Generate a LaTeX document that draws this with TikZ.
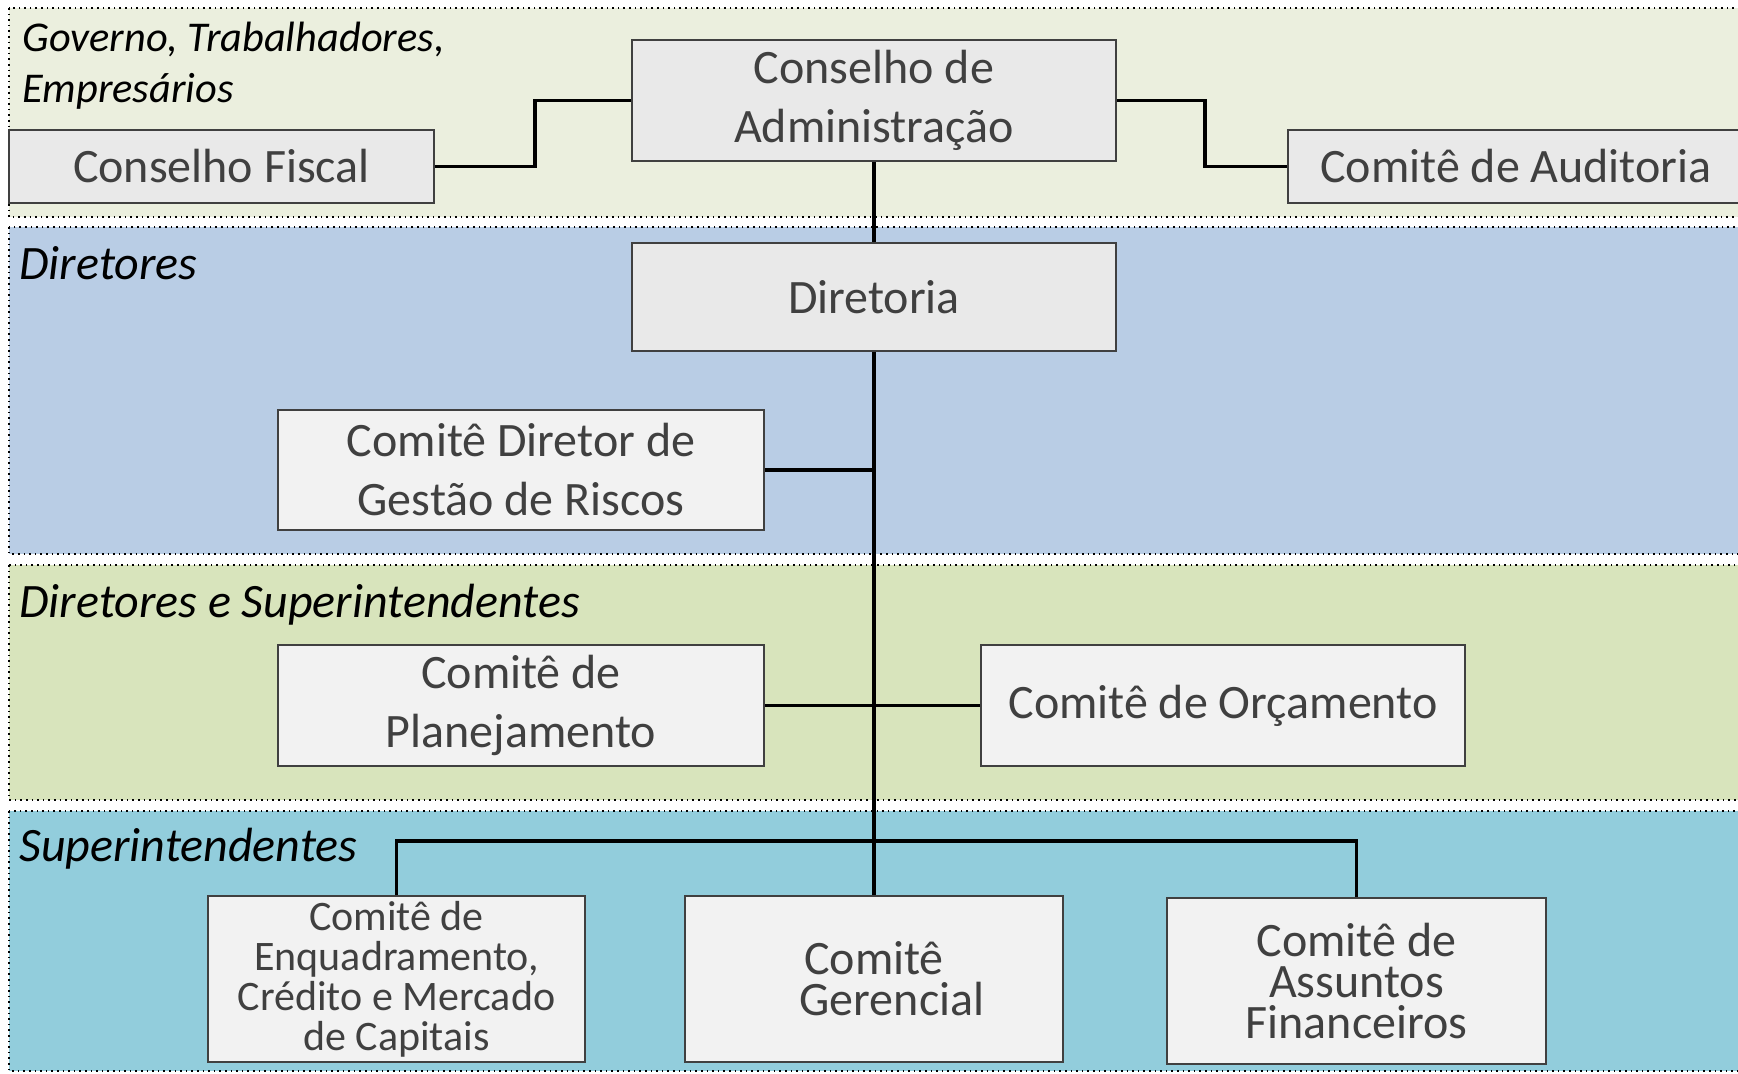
\documentclass[tikz,border=0pt]{standalone}
\usepackage{fontspec}
\setmainfont{Carlito}
\definecolor{govband}{HTML}{EBEFDE}
\definecolor{dirband}{HTML}{B9CDE5}
\definecolor{dsband}{HTML}{D8E4BC}
\definecolor{supband}{HTML}{92CDDC}
\definecolor{topfill}{HTML}{E9E9E9}
\definecolor{boxfill}{HTML}{F2F2F2}
\definecolor{boxline}{HTML}{404040}
\definecolor{boxtext}{HTML}{404040}

\begin{document}
\begin{tikzpicture}[x=0.5pt, y=-0.5pt,
        box/.style={draw=boxline, line width=1pt, fill=boxfill, text=boxtext, align=center,
          inner sep=0pt, font=\fontsize{24}{29.5}\selectfont},
        topbox/.style={box, fill=topfill},
        lowbox/.style={box, font=\fontsize{24}{20.5}\selectfont},
        level/.style={anchor=base west, inner sep=0pt, font=\fontsize{24}{28}\selectfont\itshape},
        band/.style={dotted, line width=0.8pt},
        link/.style={line width=1.6pt}]
        \useasboundingbox (0,0) rectangle (1738,1074);
        \clip (0,0) rectangle (1738,1074);

        % faixas
        \filldraw[band, fill=govband] (9,8) rectangle (1760,217);
        \filldraw[band, fill=dirband] (9,227) rectangle (1760,554);
        \filldraw[band, fill=dsband] (9,565) rectangle (1760,800);
        \filldraw[band, fill=supband] (9,811) rectangle (1760,1071);

        \node[level, font=\fontsize{21.2}{25.5}\selectfont\itshape, align=left, anchor=north west] (Lgov) at (22,22) {Governo, Trabalhadores,\\Empresários};
        \node[level] (Ldir) at (19,280) {Diretores};
        \node[level] (Ldirsup) at (19,617) {Diretores e Superintendentes};
        \node[level] (Lsup) at (19,861) {Superintendentes};

        % comites
        \node[topbox, minimum width=212.5pt, minimum height=36.5pt] (CF) at (221.5,166.5) {Conselho Fiscal};
        \node[topbox, minimum width=242pt, minimum height=60.5pt] (CA) at (874,100.5) {Conselho de\\Administração};
        \node[topbox, minimum width=228.5pt, minimum height=36.5pt] (CAud) at (1516,166.5) {Comitê de Auditoria};
        \node[topbox, minimum width=242pt, minimum height=54pt] (Dir) at (874,297) {Diretoria};
        \node[box, minimum width=243pt, minimum height=60pt] (CDGR) at (521,470) {Comitê Diretor de\\Gestão de Riscos};
        \node[box, minimum width=243pt, minimum height=60.5pt] (CP) at (521,705.5) {Comitê de\\Planejamento};
        \node[box, minimum width=242pt, minimum height=60.5pt] (CO) at (1223,705.5) {Comitê de Orçamento};
        \node[lowbox, minimum width=188.5pt, minimum height=83pt, font=\fontsize{21}{20}\selectfont] (CECM) at (396.5,979) {Comitê de\\Enquadramento,\\Crédito e Mercado\\de Capitais};
        \node[lowbox, minimum width=189pt, minimum height=83pt] (CG) at (874,979) {Comitê\\\hspace*{18pt}Gerencial};
        \node[lowbox, minimum width=189.5pt, minimum height=83pt] (CAF) at (1356.5,981) {Comitê de\\Assuntos\\Financeiros};

        \draw[link] (CF.east) -- ++(100,0) |- (CA.west);
        \draw[link] (CA.east) -- ++(88,0) |- (CAud.west);
        \draw[link] (CA.south) -- (Dir.north);
        \draw[link] (Dir.south) -- (CG.north);
        \draw[link] (CDGR.east) -- (CDGR.east -| Dir.south);
        \draw[link] (CP.east) -- (CO.west);
        \draw[link] (CECM.north) -- ++(0,-54) -| (CAF.north);
      \end{tikzpicture}
\end{document}
